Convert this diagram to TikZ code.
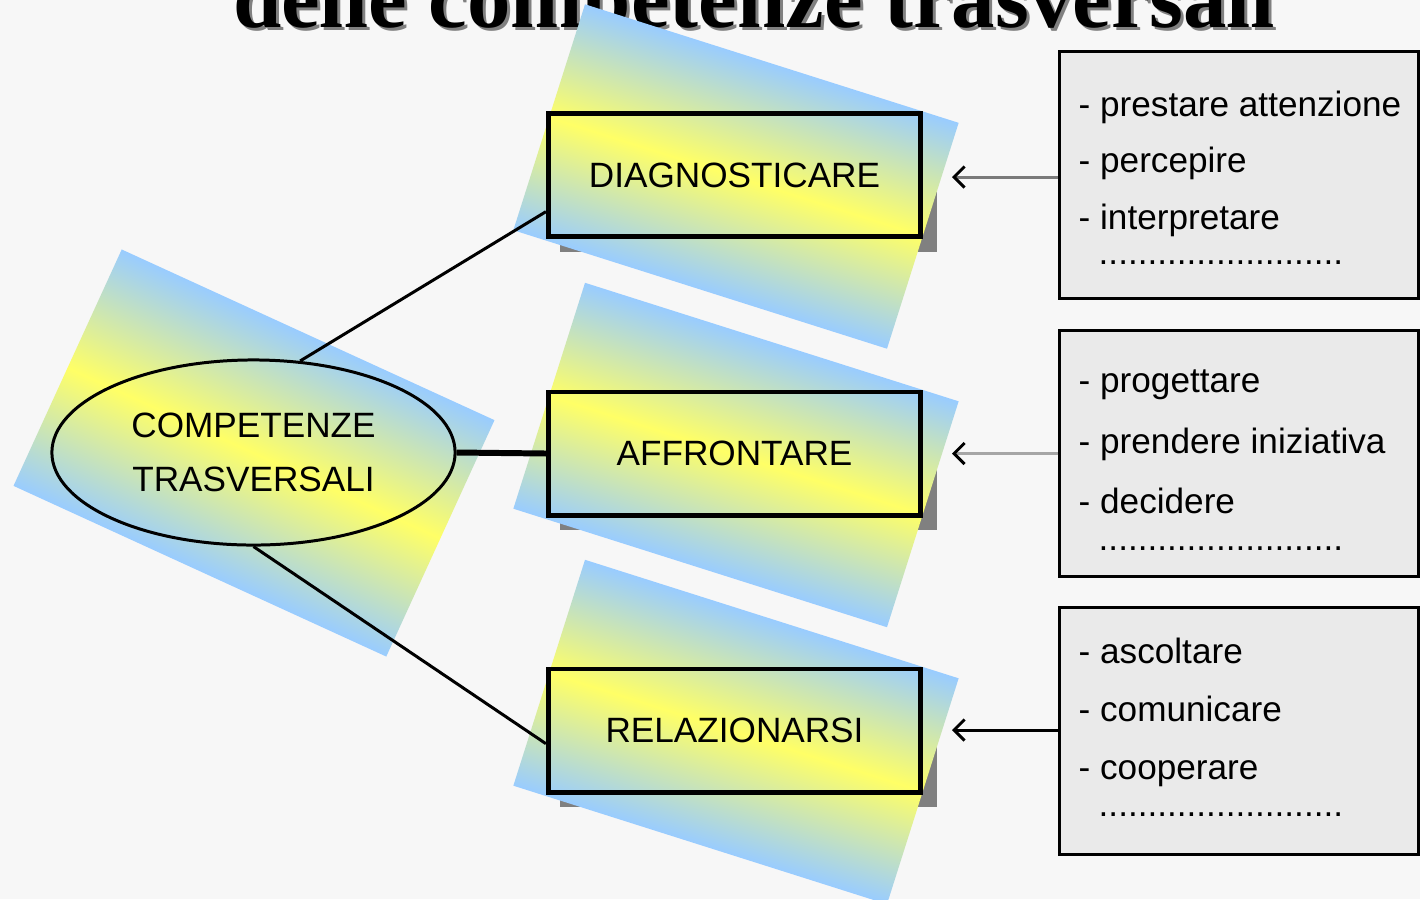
\documentclass[tikz,border=0pt]{standalone}
\usepackage{fontspec}
\setmainfont{Liberation Sans}
\newfontfamily\titlefont{Liberation Serif}
\usepackage{xcolor}
\usetikzlibrary{arrows.meta,shapes.geometric}

\definecolor{bgcol}{RGB}{247,247,247}
\definecolor{skyblue}{RGB}{153,204,255}
\definecolor{lemon}{RGB}{255,255,102}
\definecolor{panelgray}{RGB}{234,234,234}
\definecolor{shadowgray}{RGB}{128,128,128}
\definecolor{arrowgray}{RGB}{122,122,122}
\definecolor{arrowlight}{RGB}{166,166,166}

\tikzset{
  patch/.style={top color=skyblue,bottom color=skyblue,middle color=lemon},
  glow/.style={path picture={
      \begin{scope}[transform canvas={shift={(path picture bounding box.center)},rotate=#1}]
          \fill[skyblue] (-320,-160) rectangle (320,160);
          \shade[patch] (-320,-108) rectangle (320,108);
      \end{scope}}},
  verb/.style={rectangle,draw=black,line width=1.4pt,minimum width=3.72cm,minimum height=1.23cm,
    glow=-18.3,font=\fontsize{10}{12}\selectfont},
  panel/.style={rectangle,draw=black,line width=0.85pt,fill=panelgray,
    minimum width=3.58cm,minimum height=2.46cm},
  item/.style={anchor=base west,inner sep=0pt,font=\fontsize{10}{12}\selectfont},
  headline/.style={anchor=base,inner sep=0pt,font=\titlefont\bfseries\fontsize{24.7}{28}\selectfont}
}

\begin{document}
\begin{tikzpicture}[x=0.01cm,y=-0.01cm]
    \fill[bgcol] (0,0) rectangle (1420,899);
    \useasboundingbox (0,0) rectangle (1420,899);

    \begin{scope}
        \clip (0,0) rectangle (1420,60);
        \node[headline,text=shadowgray] (Tsh) at (757,30) {delle competenze trasversali};
        \node[headline] (T) at (754,27) {delle competenze trasversali};
    \end{scope}

    \fill[shadowgray] (560,124) rectangle (937,252);
    \fill[shadowgray] (560,403) rectangle (937,530);
    \fill[shadowgray] (560,680) rectangle (937,807);

    \begin{scope}[transform canvas={shift={(254,453)},rotate=-24.6}]
        \shade[patch] (-205,-130) rectangle (205,130);
    \end{scope}
    \begin{scope}[transform canvas={shift={(736,176.5)},rotate=-17.6}]
        \shade[patch] (-196,-118.5) rectangle (196,118.5);
    \end{scope}
    \begin{scope}[transform canvas={shift={(736,455)},rotate=-17.6}]
        \shade[patch] (-196,-118.5) rectangle (196,118.5);
    \end{scope}
    \begin{scope}[transform canvas={shift={(736,732)},rotate=-17.6}]
        \shade[patch] (-196,-118.5) rectangle (196,118.5);
    \end{scope}

    \node[ellipse,draw=black,line width=0.85pt,minimum width=4.03cm,minimum height=1.85cm,
          inner sep=0pt,glow=-24.7,align=center,font=\fontsize{10}{15.4}\selectfont]
          (E) at (253.5,452.5) {COMPETENZE\\TRASVERSALI};

    \node[verb] (D) at (734.5,175) {DIAGNOSTICARE};
    \node[verb] (A) at (734.5,453.5) {AFFRONTARE};
    \node[verb] (R) at (734.5,730.5) {RELAZIONARSI};

    \begin{scope}[every edge/.style={draw=black,line width=0.85pt}]
        \path (E.63) edge (D.191);
        \path (E.east) edge[line width=1.7pt] (A.west);
        \path (E.south) edge (R.184);
    \end{scope}

    \node[panel] (K1) at (1239,175) {};
    \node[panel] (K2) at (1239,453.5) {};
    \node[panel] (K3) at (1239,731) {};

    \node[item] (k11) at (1078,116) {- prestare attenzione};
    \node[item] (k12) at (1078,172) {- percepire};
    \node[item] (k13) at (1078,229) {- interpretare};
    \node[item] (k14) at (1098,264) {.........................};

    \node[item] (k21) at (1078,392) {- progettare};
    \node[item] (k22) at (1078,453) {- prendere iniziativa};
    \node[item] (k23) at (1078,513) {- decidere};
    \node[item] (k24) at (1098,550) {.........................};

    \node[item] (k31) at (1078,663) {- ascoltare};
    \node[item] (k32) at (1078,721) {- comunicare};
    \node[item] (k33) at (1078,779) {- cooperare};
    \node[item] (k34) at (1098,816) {.........................};

    \coordinate (a1) at (952,177);
    \coordinate (a2) at (952,453.5);
    \coordinate (a3) at (952,730);

    \begin{scope}[>={Straight Barb[black,length=3pt,width=6pt]},
                  every edge/.style={draw,line width=0.85pt}]
        \path [->] (K1.west |- a1) edge[arrowgray] (a1);
        \path [->] (K2.west) edge[arrowlight] (a2);
        \path [->] (K3.west |- a3) edge[black] (a3);
    \end{scope}
\end{tikzpicture}
\end{document}
